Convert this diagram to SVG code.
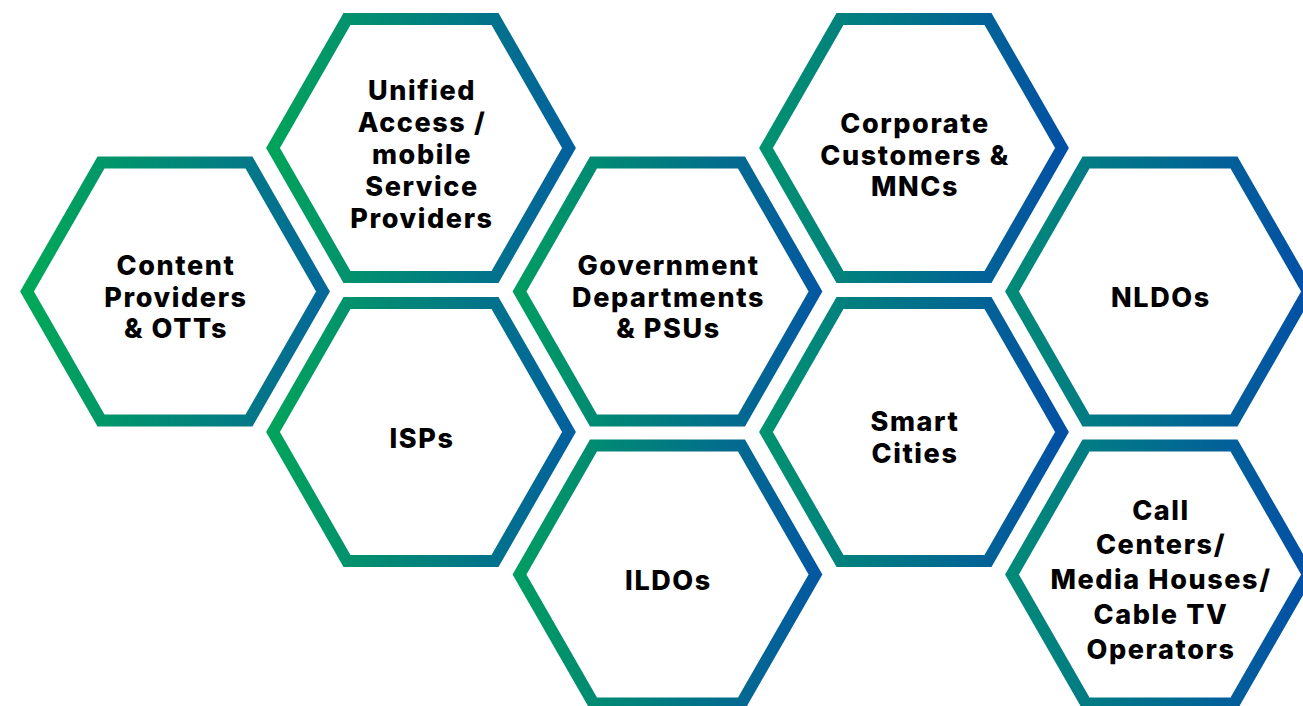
<svg xmlns="http://www.w3.org/2000/svg" width="1303" height="706" viewBox="0 0 1303 706">
  <style>
    .hex { fill: #ffffff; stroke-width: 12; stroke-linejoin: miter; }
    .lbl { font-family: Inter, "Noto Sans", "DejaVu Sans", sans-serif; font-weight: 800; font-size: 27px; letter-spacing: 1.6px; fill: #000000; text-anchor: middle; }
  </style>
  <defs>
    <linearGradient id="gA" x1="0" y1="0" x2="1" y2="0">
      <stop offset="0" stop-color="#00a857"/>
      <stop offset="1" stop-color="#046898"/>
    </linearGradient>
    <linearGradient id="gB" x1="0" y1="0" x2="1" y2="0">
      <stop offset="0" stop-color="#01a35b"/>
      <stop offset="1" stop-color="#02619d"/>
    </linearGradient>
    <linearGradient id="gC" x1="0" y1="0" x2="1" y2="0">
      <stop offset="0" stop-color="#009c62"/>
      <stop offset="1" stop-color="#0358a1"/>
    </linearGradient>
    <linearGradient id="gD" x1="0" y1="0" x2="1" y2="0">
      <stop offset="0" stop-color="#019270"/>
      <stop offset="1" stop-color="#0251a4"/>
    </linearGradient>
    <linearGradient id="gE" x1="0" y1="0" x2="1" y2="0">
      <stop offset="0" stop-color="#028a78"/>
      <stop offset="1" stop-color="#0250a6"/>
    </linearGradient>
  </defs>

  <g id="content-providers">
    <polygon class="hex" stroke="url(#gA)" points="27,291.5 101,162.5 249,162.5 323,291.5 249,420.5 101,420.5"/>
    <text class="lbl"><tspan x="176" y="275">Content</tspan><tspan x="176" y="307">Providers</tspan><tspan x="176" y="338">&amp; OTTs</tspan></text>
  </g>

  <g id="unified-access">
    <polygon class="hex" stroke="url(#gB)" points="273,148 347,19 495,19 569,148 495,277 347,277"/>
    <text class="lbl"><tspan x="422" y="100">Unified</tspan><tspan x="422" y="132">Access /</tspan><tspan x="422" y="164">mobile</tspan><tspan x="422" y="196">Service</tspan><tspan x="422" y="228">Providers</tspan></text>
  </g>

  <g id="isps">
    <polygon class="hex" stroke="url(#gB)" points="273,432 347,303 495,303 569,432 495,561 347,561"/>
    <text class="lbl"><tspan x="422" y="448">ISPs</tspan></text>
  </g>

  <g id="government">
    <polygon class="hex" stroke="url(#gC)" points="519.5,291.5 593.5,162.5 741.5,162.5 815.5,291.5 741.5,420.5 593.5,420.5"/>
    <text class="lbl"><tspan x="668.5" y="275">Government</tspan><tspan x="668.5" y="307">Departments</tspan><tspan x="668.5" y="338">&amp; PSUs</tspan></text>
  </g>

  <g id="ildos">
    <polygon class="hex" stroke="url(#gC)" points="519.5,574.5 593.5,445.5 741.5,445.5 815.5,574.5 741.5,703.5 593.5,703.5"/>
    <text class="lbl"><tspan x="668.5" y="590">ILDOs</tspan></text>
  </g>

  <g id="corporate">
    <polygon class="hex" stroke="url(#gD)" points="766,148 840,19 988,19 1062,148 988,277 840,277"/>
    <text class="lbl"><tspan x="915" y="133">Corporate</tspan><tspan x="915" y="165">Customers &amp;</tspan><tspan x="915" y="196">MNCs</tspan></text>
  </g>

  <g id="smart-cities">
    <polygon class="hex" stroke="url(#gD)" points="766,432 840,303 988,303 1062,432 988,561 840,561"/>
    <text class="lbl"><tspan x="915" y="431">Smart</tspan><tspan x="915" y="463">Cities</tspan></text>
  </g>

  <g id="nldos">
    <polygon class="hex" stroke="url(#gE)" points="1012,291.5 1086,162.5 1234,162.5 1308,291.5 1234,420.5 1086,420.5"/>
    <text class="lbl"><tspan x="1161" y="307">NLDOs</tspan></text>
  </g>

  <g id="call-centers">
    <polygon class="hex" stroke="url(#gE)" points="1012,574.5 1086,445.5 1234,445.5 1308,574.5 1234,703.5 1086,703.5"/>
    <text class="lbl"><tspan x="1161" y="520">Call</tspan><tspan x="1161" y="554">Centers/</tspan><tspan x="1161" y="589">Media Houses/</tspan><tspan x="1161" y="624">Cable TV</tspan><tspan x="1161" y="659">Operators</tspan></text>
  </g>

  <g id="connectors"/>
</svg>
